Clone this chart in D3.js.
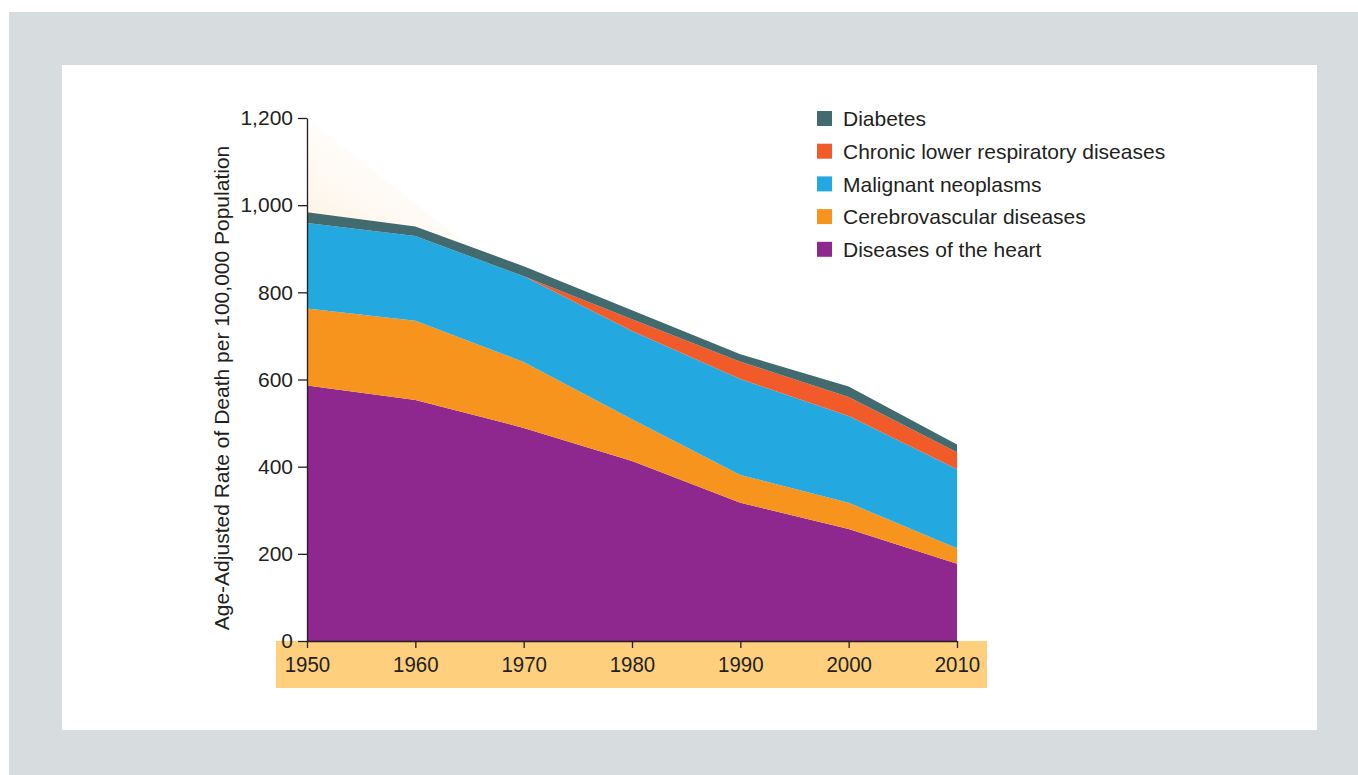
<!DOCTYPE html>
<html>
<head>
<meta charset="utf-8">
<script src="https://cdn.jsdelivr.net/npm/d3@7"></script>
<style>
  html, body { margin: 0; padding: 0; background: #fff; }
  svg { display: block; font-family: "Liberation Sans", Arial, sans-serif; }
</style>
</head>
<body>
<svg></svg>
<script>
const years = [1950, 1960, 1970, 1980, 1990, 2000, 2010],
      heart = [586, 553, 489, 413, 317, 257, 177],
      cerebro = [177, 182, 151, 96, 64, 60, 36],
      cancer = [196, 194, 197, 202, 220, 199, 181],
      clrd = [0, 0, 0, 27, 40, 44, 39],
      diabetes = [25, 22, 23, 21, 17, 24, 18],
      yTicks = [0, 200, 400, 600, 800, 1000, 1200],
      // faint glow above the first decades, [year, value]
      glow = [[1950, 1200], [1950, 984], [1960, 951], [1966, 885]];

const series = [
  { key: 'heart', name: 'Diseases of the heart', values: heart, color: '#8e278e' },
  { key: 'cerebro', name: 'Cerebrovascular diseases', values: cerebro, color: '#f7941d' },
  { key: 'cancer', name: 'Malignant neoplasms', values: cancer, color: '#23a8e0' },
  { key: 'clrd', name: 'Chronic lower respiratory diseases', values: clrd, color: '#f15a29' },
  { key: 'diabetes', name: 'Diabetes', values: diabetes, color: '#416b6f' }
];

const width = 1358,
      height = 775,
      rows = years.map((y, i) => {
        const r = { year: y };
        series.forEach((s) => { r[s.key] = s.values[i]; });
        return r;
      }),
      stack = d3.stack().keys(series.map((s) => s.key))(rows),
      xScale = d3.scaleLinear()
                 .domain([1950, 2010])
                 .range([307, 957]),
      yScale = d3.scaleLinear()
                 .domain([0, 1200])
                 .range([641, 118]),
      area = d3.area()
               .x((d) => xScale(d.data.year))
               .y0((d) => yScale(d[0]))
               .y1((d) => yScale(d[1]));

const svg = d3.select('svg')
    .attr('width', width)
    .attr('height', height);

// frame
svg.append('rect')
    .attr('x', 9).attr('y', 12)
    .attr('width', width - 9).attr('height', height - 12)
    .attr('fill', '#d7dcdf');
svg.append('rect')
    .attr('x', 62).attr('y', 65)
    .attr('width', 1255).attr('height', 665)
    .attr('fill', '#ffffff');

const defs = svg.append('defs');
const grad = defs.append('linearGradient')
    .attr('id', 'glow')
    .attr('x1', '0%').attr('y1', '100%')
    .attr('x2', '70%').attr('y2', '0%');
grad.append('stop').attr('offset', '0%').attr('stop-color', '#fdebd3').attr('stop-opacity', 0.9);
grad.append('stop').attr('offset', '100%').attr('stop-color', '#ffffff').attr('stop-opacity', 0);

svg.append('path')
    .attr('d', d3.line().x((d) => xScale(d[0])).y((d) => yScale(d[1]))(glow) + 'Z')
    .attr('fill', 'url(#glow)');

// x band
svg.append('rect')
    .attr('x', 276).attr('y', 641)
    .attr('width', 711).attr('height', 47)
    .attr('fill', '#fecf7c');

svg.append('g')
  .selectAll('path')
  .data(stack)
  .enter()
  .append('path')
    .attr('d', area)
    .attr('fill', (d, i) => series[i].color);

const xAxis = d3.axisBottom(xScale)
                .tickValues(years)
                .tickFormat(d3.format('d'))
                .tickSize(7)
                .tickSizeOuter(0),
      yAxis = d3.axisLeft(yScale)
                .tickValues(yTicks)
                .tickFormat(d3.format(','))
                .tickSize(9)
                .tickSizeOuter(0);

const gx = svg.append('g')
    .attr('transform', `translate(0, 641)`)
    .call(xAxis);
gx.selectAll('text')
    .attr('y', 15)
    .attr('dy', '0.71em')
    .attr('transform', 'scale(0.93, 1)')
    .style('font-size', '22px')
    .attr('fill', '#231f20');
// keep scaled labels centred on their ticks
gx.selectAll('.tick text')
    .attr('x', 0);

const gy = svg.append('g')
    .attr('transform', `translate(307, 0)`)
    .call(yAxis);
gy.selectAll('text')
    .attr('x', -14)
    .style('font-size', '21px')
    .attr('fill', '#231f20');

svg.selectAll('.domain, .tick line')
    .attr('stroke', '#231f20')
    .attr('stroke-width', 1.3);

svg.append('text')
    .text('Age-Adjusted Rate of Death per 100,000 Population')
    .attr('transform', 'rotate(-90)')
    .attr('x', -388)
    .attr('y', 229)
    .style('text-anchor', 'middle')
    .style('font-size', '21px')
    .attr('fill', '#231f20');

// legend, top series first
const legend = svg.append('g')
    .attr('transform', 'translate(817, 119)')
  .selectAll('g')
  .data(series.slice().reverse())
  .enter()
  .append('g')
    .attr('transform', (d, i) => `translate(0, ${i * 32.7})`);

legend.append('rect')
    .attr('x', 0).attr('y', -8)
    .attr('width', 15).attr('height', 15)
    .attr('fill', (d) => d.color);

legend.append('text')
    .text((d) => d.name)
    .attr('x', 26)
    .attr('dy', '0.35em')
    .style('font-size', '21px')
    .attr('fill', '#231f20');
</script>
</body>
</html>
